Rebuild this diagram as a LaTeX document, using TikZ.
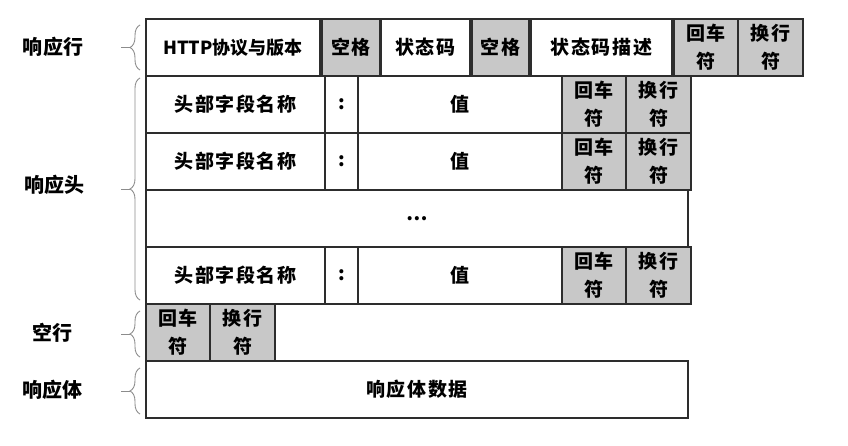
\documentclass[tikz,border=0pt]{standalone}
\usepackage{fontspec}
\setmainfont{Noto Sans CJK SC}
\usetikzlibrary{positioning,decorations.pathreplacing}
\definecolor{cellgray}{RGB}{200,200,200}
\definecolor{framegray}{RGB}{45,45,45}
\definecolor{bracegray}{RGB}{140,140,140}

\begin{document}
\begin{tikzpicture}[x=1pt,y=-1pt,
	cell/.style={draw=framegray,line width=1.3pt,minimum height=57pt,inner sep=0pt,outer sep=0pt,
		font=\bfseries\fontsize{19}{23}\selectfont\addfontfeatures{LetterSpace=8}},
	wcell/.style={cell,fill=white},
	gcell/.style={cell,fill=cellgray,align=center,font=\bfseries\fontsize{19}{28}\selectfont\addfontfeatures{LetterSpace=8}},
	part/.style={font=\bfseries\fontsize{20}{24}\selectfont},
	brc/.style={draw=bracegray,line width=0.9pt,decorate,decoration={brace,amplitude=10pt}},
	brctick/.style={draw=bracegray,line width=0.9pt}]
\useasboundingbox (0,0) rectangle (848,446);

\node[wcell,anchor=north west,minimum width=174pt,font=\bfseries\fontsize{18}{22}\selectfont] (ver) at (146,19) {HTTP协议与版本};
\node[gcell,minimum width=58pt,right=2pt of ver] (sp1) {空格};
\node[wcell,minimum width=89pt,right=1pt of sp1] (code) {状态码};
\node[gcell,minimum width=57pt,right=2pt of code] (sp2) {空格};
\node[wcell,minimum width=141pt,right=2pt of sp2] (desc) {状态码描述};
\node[gcell,minimum width=64pt,right=2pt of desc] (cr0) {回车\\符};
\node[gcell,minimum width=65pt,right=0pt of cr0] (lf0) {换行\\符};

\node[wcell,anchor=north west,minimum width=179pt] (h1n) at (146,76) {头部字段名称};
\node[wcell,minimum width=33pt,right=0pt of h1n] (h1c) {:};
\node[wcell,minimum width=204pt,right=0pt of h1c] (h1v) {值};
\node[gcell,minimum width=64pt,right=0pt of h1v] (h1cr) {回车\\符};
\node[gcell,minimum width=65pt,right=0pt of h1cr] (h1lf) {换行\\符};

\node[wcell,minimum width=179pt,below=0pt of h1n] (h2n) {头部字段名称};
\node[wcell,minimum width=33pt,right=0pt of h2n] (h2c) {:};
\node[wcell,minimum width=204pt,right=0pt of h2c] (h2v) {值};
\node[gcell,minimum width=64pt,right=0pt of h2v] (h2cr) {回车\\符};
\node[gcell,minimum width=65pt,right=0pt of h2cr] (h2lf) {换行\\符};

\node[wcell,minimum width=542pt,below=0pt of h2n.south west,anchor=north west] (hdots) {…};

\node[wcell,minimum width=179pt,below=0pt of hdots.south west,anchor=north west] (h4n) {头部字段名称};
\node[wcell,minimum width=33pt,right=0pt of h4n] (h4c) {:};
\node[wcell,minimum width=204pt,right=0pt of h4c] (h4v) {值};
\node[gcell,minimum width=64pt,right=0pt of h4v] (h4cr) {回车\\符};
\node[gcell,minimum width=65pt,right=0pt of h4cr] (h4lf) {换行\\符};

\node[gcell,minimum width=64pt,below=0pt of h4n.south west,anchor=north west] (ecr) {回车\\符};
\node[gcell,minimum width=65pt,right=0pt of ecr] (elf) {换行\\符};

\node[wcell,minimum width=542pt,below=0pt of ecr.south west,anchor=north west] (body) {响应体数据};

\node[part] (lrow) at (53,47) {响应行};
\node[part] (lhead) at (54,185) {响应头};
\node[part] (lblank) at (52,333) {空行};
\node[part] (lbody) at (52,390) {响应体};

\coordinate (b1t) at (140,25);
\coordinate (b1b) at (140,70);
\coordinate (b1m) at (130,47.5);
\coordinate (b1e) at (121,47.5);
\coordinate (b2t) at (140,78);
\coordinate (b2b) at (140,300);
\coordinate (b2m) at (130,189);
\coordinate (b2e) at (121,189);
\coordinate (b3t) at (140,311);
\coordinate (b3b) at (140,357);
\coordinate (b3m) at (130,334);
\coordinate (b3e) at (121,334);
\coordinate (b4t) at (140,368);
\coordinate (b4b) at (140,414);
\coordinate (b4m) at (130,391);
\coordinate (b4e) at (121,391);

\draw[brc] (b1b) -- (b1t);
\draw[brctick] (b1m) -- (b1e);
\draw[brc] (b2b) -- (b2t);
\draw[brctick] (b2m) -- (b2e);
\draw[brc] (b3b) -- (b3t);
\draw[brctick] (b3m) -- (b3e);
\draw[brc] (b4b) -- (b4t);
\draw[brctick] (b4m) -- (b4e);
\end{tikzpicture}
\end{document}
